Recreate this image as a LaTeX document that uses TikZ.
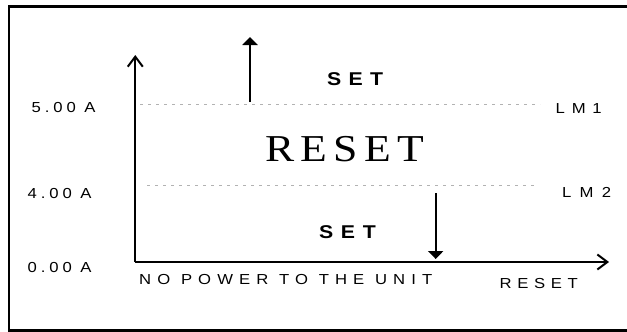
\documentclass[tikz,border=0pt]{standalone}
\usepackage{fontspec}
\setmainfont{Liberation Sans}
\newfontfamily\lblfont[FakeStretch=1.15]{Liberation Sans}
\newfontfamily\bigfont[FakeStretch=1.15]{Liberation Serif}
\usetikzlibrary{arrows.meta}
\newcommand{\spaced}[2]{{\addfontfeature{LetterSpace=#1}#2}}

\begin{document}
\begin{tikzpicture}[x=1pt, y=-1pt,
  lbl/.style={anchor=base west, inner sep=0pt,
              font=\lblfont\fontsize{14.5}{17}\selectfont},
  zonelbl/.style={anchor=base west, inner sep=0pt,
                  font=\lblfont\bfseries\fontsize{18.5}{22}\selectfont},
  axis/.style={-{Straight Barb[length=10pt,width=15pt]}, line width=2pt},
  limit/.style={draw=gray!60, line width=0.8pt, dash pattern=on 2.5pt off 5.5pt},
  setarrow/.style={-{Triangle[length=8pt,width=15pt]}, line width=2pt},
]
  \useasboundingbox (0,0) rectangle (627,332);
  \clip (0,0) rectangle (627,332);

  % frame
  \draw[line width=2.5pt] (640,6.7) -- (8.8,6.7) -- (8.8,330.5) -- (640,330.5);

  % axes
  \coordinate (origin) at (135.3,262);
  \coordinate (ytop) at (135.3,55);
  \coordinate (xend) at (609,262);
  \draw[axis] (origin) -- (ytop);
  \draw[axis] (origin) -- (xend);

  % limit lines
  \coordinate (lm1a) at (140,104.3);
  \coordinate (lm1b) at (540,104.3);
  \coordinate (lm2a) at (147,185.7);
  \coordinate (lm2b) at (537,185.7);
  \draw[limit] (lm1a) -- (lm1b);
  \draw[limit] (lm2a) -- (lm2b);

  % current values
  \node[lbl] (v5) at (31.5,112) {\spaced{27}{5.00 A}};
  \node[lbl] (v4) at (27.5,198) {\spaced{27}{4.00 A}};
  \node[lbl] (v0) at (27.5,272) {\spaced{27}{0.00 A}};
  \node[lbl] (lm1) at (555.5,113) {\spaced{47}{LM1}};
  \node[lbl] (lm2) at (562,197.7) {\spaced{57}{LM2}};

  % zones
  \node[zonelbl] (settop) at (327,85.7) {\spaced{39}{SET}};
  \node[zonelbl] (setbot) at (319,238) {\spaced{41}{SET}};
  \node[anchor=base west, inner sep=0pt,
        font=\bigfont\fontsize{38}{42}\selectfont] (reset) at (265,161.7) {\spaced{17}{RESET}};
  \node[lbl] (nopower) at (139,284) {\spaced{42}{NO POWER TO THE UNIT}};
  \node[lbl] (resetx) at (499.5,288) {\spaced{39}{RESET}};

  % transitions
  \coordinate (upfrom) at (250,102);
  \coordinate (upto) at (250,37);
  \coordinate (dnfrom) at (435.7,193.3);
  \coordinate (dnto) at (435.7,259);
  \draw[setarrow] (upfrom) -- (upto);
  \draw[setarrow] (dnfrom) -- (dnto);
\end{tikzpicture}
\end{document}
